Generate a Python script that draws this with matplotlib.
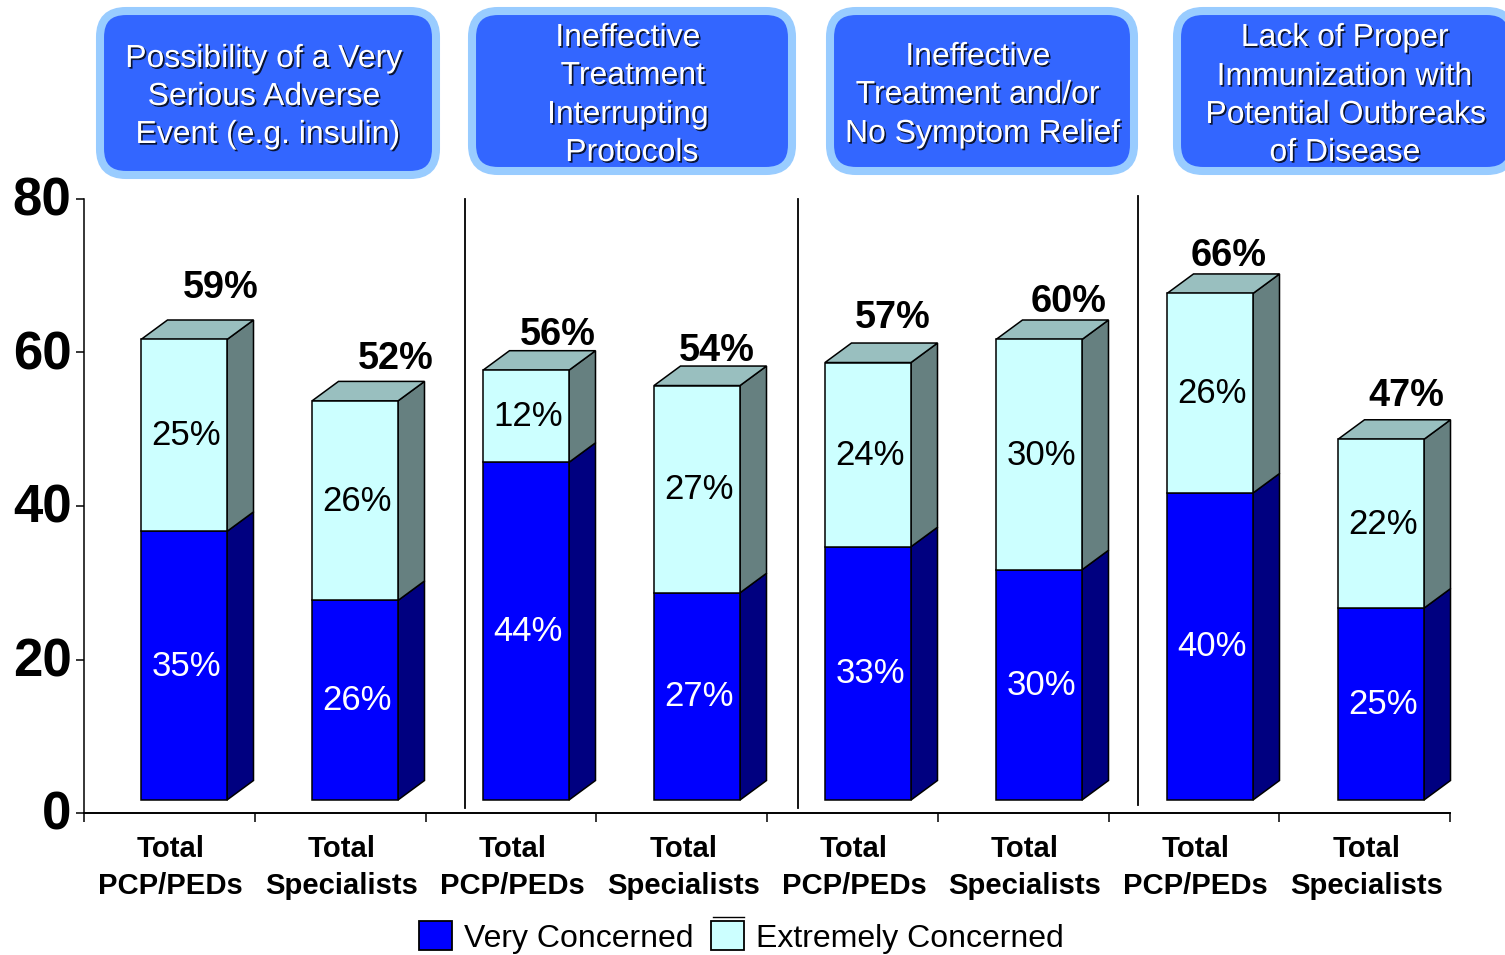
#!/usr/bin/env python
import matplotlib
matplotlib.use('Agg')
import matplotlib.pyplot as plt
import matplotlib.patheffects as pe
from matplotlib.patches import FancyBboxPatch, Polygon, Patch
from matplotlib.transforms import ScaledTranslation

plt.rcParams['font.family'] = ['Liberation Sans', 'DejaVu Sans']

groups = ['Total\nPCP/PEDs', 'Total\nSpecialists'] * 4
very = [35, 26, 44, 27, 33, 30, 40, 25]
extreme = [25, 26, 12, 27, 24, 30, 26, 22]
totals = [59, 52, 56, 54, 57, 60, 66, 47]
yticks = [0, 20, 40, 60, 80]
series_names = ['Very Concerned', 'Extremely Concerned']

headers = [
    ['Possibility of a Very', 'Serious Adverse', 'Event (e.g. insulin)'],
    ['Ineffective', 'Treatment', 'Interrupting', 'Protocols'],
    ['Ineffective', 'Treatment and/or', 'No Symptom Relief'],
    ['Lack of Proper', 'Immunization with', 'Potential Outbreaks', 'of Disease'],
]

# layout stuff, in pixels
header_boxes = [(100, 11, 336, 164), (472, 11, 320, 160), (830, 11, 304, 160), (1177, 11, 336, 160)]
header_x = [[264, 264, 268], [628, 633, 628, 632], [978, 978, 983], [1345, 1345, 1346, 1345]]
header_y = [[59, 97, 135], [38, 76, 115, 153], [57, 95, 134], [38, 77, 115, 153]]
dividers = [(465, 199, 808), (798, 199, 808), (1138, 196, 805)]
total_dx = [37, 41, 32, 20, 25, 30, 19, 25]
total_dy = [52, 42, 35, 35, 45, 38, 37, 43]

W, H = 1505, 955
fig = plt.figure(figsize=(W / 100, H / 100), dpi=100)
ax = fig.add_axes([84 / W, (H - 813) / H, 1366 / W, 614 / H])
ax.set_xlim(0, 8)
ax.set_ylim(0, 80)

px_x = 8 / 1366
px_y = 80 / 614
bar_w = 86 * px_x
depth_x = 26.5 * px_x
depth_y = 19.5 * px_y
base = 13 * px_y
lefts = [(57 + i * 171) * px_x for i in range(8)]

def side(x, y0, h, color):
    ax.add_patch(Polygon([(x + bar_w, y0), (x + bar_w + depth_x, y0 + depth_y),
                          (x + bar_w + depth_x, y0 + h + depth_y), (x + bar_w, y0 + h)],
                         fc=color, ec='black', lw=1.1, zorder=2, clip_on=False))

for i in range(8):
    x = lefts[i]
    v = very[i]
    e = extreme[i]
    side(x, base, v, '#000080')
    side(x, base + v, e, '#668080')
    top = base + v + e
    ax.add_patch(Polygon([(x, top), (x + depth_x, top + depth_y),
                          (x + bar_w + depth_x, top + depth_y), (x + bar_w, top)],
                         fc='#99BFBF', ec='black', lw=1.1, zorder=2, clip_on=False))
    ax.text(x + bar_w / 2 + 2 * px_x, base + v / 2 - 0.5 * px_y, '%d%%' % v, color='white', fontsize=25,
            ha='center', va='center', zorder=4)
    ax.text(x + bar_w / 2 + 2 * px_x, base + v + e / 2 - 0.5 * px_y, '%d%%' % e, color='black', fontsize=25,
            ha='center', va='center', zorder=4)
    ax.text(x + bar_w / 2 + total_dx[i] * px_x, top + total_dy[i] * px_y, '%d%%' % totals[i],
            fontsize=27.3, fontweight='bold', ha='center', va='center', zorder=4)

ax.bar(lefts, very, bar_w, bottom=base, align='edge', color='#0000FF', edgecolor='black', lw=1.1, zorder=3)
ax.bar(lefts, extreme, bar_w, bottom=[base + v for v in very], align='edge', color='#CCFFFF',
       edgecolor='black', lw=1.1, zorder=3)

for s in ['top', 'right']:
    ax.spines[s].set_visible(False)
ax.spines['left'].set_linewidth(1.1)
ax.spines['bottom'].set_linewidth(1.4)
ax.set_yticks(yticks)
ax.set_yticklabels([str(t) for t in yticks], fontsize=38, fontweight='bold')
ax.tick_params(axis='y', length=6, width=1.1, pad=3)
up = ScaledTranslation(0, 2 / 72, fig.dpi_scale_trans)
for lab in ax.get_yticklabels():
    lab.set_transform(lab.get_transform() + up)
ax.set_xticks(range(9))
ax.set_xticklabels([])
ax.tick_params(axis='x', which='major', length=6.5, width=1.1)
ax.set_xticks([i + 0.5 + 1.5 * px_x for i in range(8)], minor=True)
ax.set_xticklabels(groups, minor=True, fontsize=21.1, fontweight='bold', linespacing=1.42)
ax.tick_params(axis='x', which='minor', length=0, pad=16)

# overlay in pixel coordinates for the header boxes and dividers
ov = fig.add_axes([0, 0, 1, 1], zorder=5)
ov.set_xlim(0, W)
ov.set_ylim(H, 0)
ov.axis('off')
ov.patch.set_alpha(0)

for (bx, by, bw, bh), lines, xs, ys in zip(header_boxes, headers, header_x, header_y):
    ov.add_patch(FancyBboxPatch((bx + 26, by + 26), bw - 52, bh - 52, boxstyle='round,pad=26,rounding_size=26',
                                fc='#3366FF', ec='#99CCFF', lw=5.8, clip_on=True))
    for line, tx, ty in zip(lines, xs, ys):
        ov.text(tx, ty, line, color='white', fontsize=23, ha='center', va='center',
                path_effects=[pe.withSimplePatchShadow(offset=(1.2, -1.2), shadow_rgbFace='black', alpha=0.8)])

for dx, y0, y1 in dividers:
    ov.plot([dx, dx], [y0, y1], color='black', lw=1.3)

# second legend swatch has a doubled top edge
ov.plot([713, 744], [917, 917], color='black', lw=1)

handles = [Patch(fc='#0000FF', ec='black', lw=1.3), Patch(fc='#CCFFFF', ec='black', lw=1.3)]
fig.legend(handles, series_names, loc='center', bbox_to_anchor=(741.5 / W, (H - 937.5) / H), ncol=2, frameon=False,
           fontsize=23, handlelength=1.03, handleheight=1.03, handletextpad=0.37, columnspacing=0.56)

fig.savefig('out.png', dpi=100)
